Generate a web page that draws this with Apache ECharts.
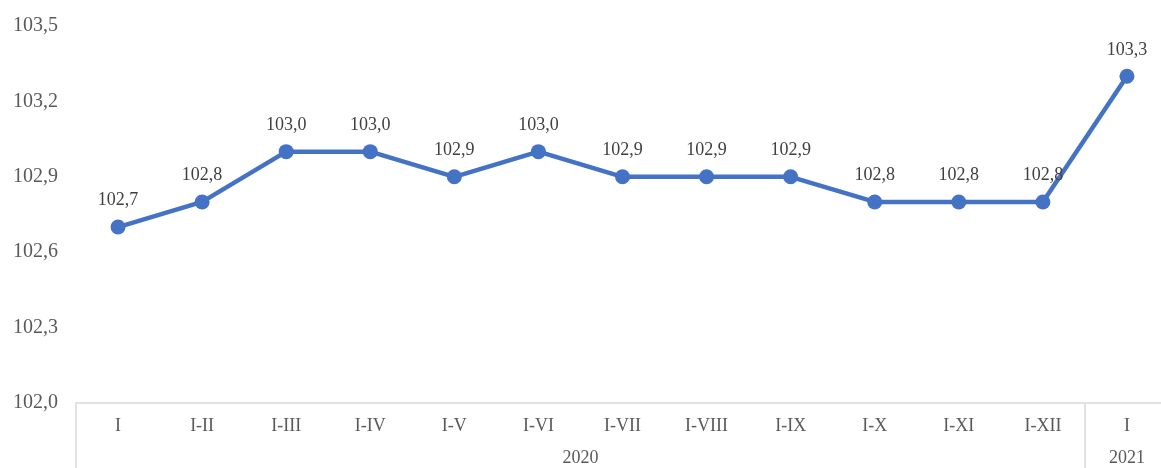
<!DOCTYPE html>
<html>
<head>
<meta charset="utf-8">
<script src="https://cdn.jsdelivr.net/npm/echarts@6/dist/echarts.min.js"></script>
<style>
html, body { margin: 0; padding: 0; background: #fff; overflow: hidden; }
/* чуть шире окна: правая граница оси уходит за край, как в оригинале */
#chart { width: 1175px; height: 468px; }
</style>
</head>
<body>
<div id="chart"></div>
<script>
// периоды (нарастающим итогом)
var categories = ['I', 'I-II', 'I-III', 'I-IV', 'I-V', 'I-VI', 'I-VII', 'I-VIII', 'I-IX', 'I-X', 'I-XI', 'I-XII', 'I'];
var values = [102.7, 102.8, 103.0, 103.0, 102.9, 103.0, 102.9, 102.9, 102.9, 102.8, 102.8, 102.8, 103.3];
// годы и их позиции в категориях (середина группы)
var years = ['2020', '2021'];
var yearPos = [6, 12.5];
var groupBounds = [0, 12];

var fontFamily = '"Liberation Serif", "Times New Roman", serif';

function comma(v) {
	return v.toFixed(1).replace('.', ',');
}

var chart = echarts.init(document.getElementById('chart'));
var option = {
	animation: false,
	grid: {
		left: 76,
		right: 6,
		top: 26,
		bottom: 65,
		containLabel: false
	},
	xAxis: [{
		type: 'category',
		data: categories,
		boundaryGap: true,
		axisLine: { show: true, lineStyle: { color: '#d9d9d9', width: 1.5 } },
		axisTick: {
			show: true,
			alignWithLabel: false,
			length: 65,
			interval: function(index) {
				return groupBounds.indexOf(index) >= 0;
			},
			lineStyle: { color: '#d9d9d9', width: 1.5 }
		},
		axisLabel: {
			color: '#595959',
			fontFamily: fontFamily,
			fontSize: 18,
			margin: 14,
			interval: 0
		},
		splitLine: { show: false }
	}, {
		type: 'value',
		position: 'bottom',
		min: 0,
		max: 13,
		interval: 0.5,
		axisLine: { show: false },
		axisTick: { show: false },
		splitLine: { show: false },
		axisLabel: {
			color: '#595959',
			fontFamily: fontFamily,
			fontSize: 18,
			margin: 46,
			showMinLabel: true,
			showMaxLabel: true,
			formatter: function(v) {
				var i = yearPos.indexOf(v);
				return i >= 0 ? years[i] : '';
			}
		}
	}],
	yAxis: {
		type: 'value',
		min: 102.0,
		max: 103.5,
		interval: 0.3,
		axisLine: { show: false },
		axisTick: { show: false },
		splitLine: { show: false },
		axisLabel: {
			color: '#595959',
			fontFamily: fontFamily,
			fontSize: 20,
			margin: 18,
			formatter: function(v) { return comma(v); }
		}
	},
	series: [{
		type: 'line',
		data: values,
		xAxisIndex: 0,
		symbol: 'circle',
		symbolSize: 15,
		lineStyle: { color: '#4472c4', width: 4.5 },
		itemStyle: { color: '#4472c4' },
		label: {
			show: true,
			position: 'top',
			distance: 10,
			color: '#404040',
			fontFamily: fontFamily,
			fontSize: 18,
			formatter: function(p) { return comma(p.value); }
		}
	}]
};
chart.setOption(option);
</script>
</body>
</html>
